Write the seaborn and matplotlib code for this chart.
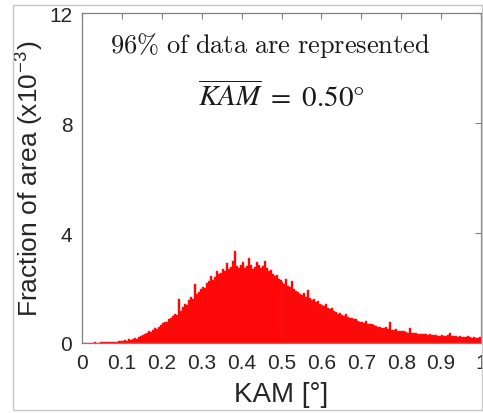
"""
KAM histogram: fraction of area vs kernel average misorientation.
"""

import numpy as np
import pandas as pd
import matplotlib
matplotlib.use('Agg')
import matplotlib.pyplot as plt
from matplotlib.patches import Rectangle
import seaborn as sns

# ── Data (bins of 0.005°) ──────────────────────────────────────────────────────
KAM_MIN, KAM_MAX = 0.0, 1.0

# fraction of area per bin, in units of 1e-3
frac_area = [
    0.00, 0.00, 0.01, 0.00, 0.01, 0.01, 0.02, 0.01, 0.01, 0.02,   # 0.00-0.05
    0.02, 0.03, 0.04, 0.02, 0.03, 0.05, 0.04, 0.05, 0.07, 0.06,   # 0.05-0.10
    0.08, 0.10, 0.09, 0.13, 0.12, 0.16, 0.18, 0.15, 0.22, 0.24,   # 0.10-0.15
    0.30, 0.34, 0.36, 0.42, 0.40, 0.48, 0.55, 0.52, 0.60, 0.66,   # 0.15-0.20
    0.72, 0.78, 0.76, 0.86, 0.92, 0.98, 1.06, 1.02, 1.60, 1.18,   # 0.20-0.25
    1.30, 1.42, 1.38, 1.55, 1.66, 1.60, 2.15, 1.78, 1.84, 1.96,   # 0.25-0.30
    2.05, 2.00, 2.18, 2.25, 2.45, 2.28, 2.40, 2.62, 2.50, 2.55,   # 0.30-0.35
    2.70, 2.62, 2.92, 2.68, 2.75, 2.98, 3.35, 2.80, 2.72, 2.84,   # 0.35-0.40
    2.95, 2.74, 2.80, 3.08, 2.82, 2.70, 2.78, 2.96, 2.84, 2.74,   # 0.40-0.45
    2.80, 2.98, 2.72, 2.62, 2.66, 2.52, 2.44, 2.48, 2.34, 2.28,   # 0.45-0.50
    2.22, 2.15, 2.32, 2.06, 2.02, 2.26, 1.96, 1.90, 1.86, 1.78,   # 0.50-0.55
    1.74, 1.82, 1.66, 1.92, 1.64, 1.58, 1.60, 1.48, 1.52, 1.40,   # 0.55-0.60
    1.38, 1.34, 1.40, 1.26, 1.22, 1.28, 1.16, 1.12, 1.06, 1.10,   # 0.60-0.65
    1.02, 0.98, 1.04, 0.94, 0.90, 0.92, 0.86, 0.88, 0.80, 0.78,   # 0.65-0.70
    0.76, 0.74, 0.80, 0.70, 0.68, 0.70, 0.64, 0.62, 0.60, 0.57,   # 0.70-0.75
    0.54, 0.55, 0.58, 0.50, 0.76, 0.48, 0.47, 0.50, 0.44, 0.45,   # 0.75-0.80
    0.42, 0.44, 0.40, 0.38, 0.56, 0.37, 0.36, 0.38, 0.34, 0.33,   # 0.80-0.85
    0.34, 0.31, 0.33, 0.29, 0.34, 0.30, 0.28, 0.29, 0.27, 0.26,   # 0.85-0.90
    0.28, 0.25, 0.26, 0.30, 0.36, 0.25, 0.24, 0.25, 0.23, 0.24,   # 0.90-0.95
    0.22, 0.23, 0.21, 0.24, 0.21, 0.20, 0.22, 0.19, 0.20, 0.23,   # 0.95-1.00
]

x_ticks = [0, 0.1, 0.2, 0.3, 0.4, 0.5, 0.6, 0.7, 0.8, 0.9, 1]
x_tick_labels = ['0', '0.1', '0.2', '0.3', '0.4', '0.5', '0.6', '0.7', '0.8', '0.9', '1']
y_ticks = [0, 4, 8, 12]

# ── Plot ──────────────────────────────────────────────────────────────────────
sns.set_style('white')
plt.rcParams['font.family'] = ['Liberation Sans', 'DejaVu Sans']
plt.rcParams['mathtext.fontset'] = 'cm'

edges = np.linspace(KAM_MIN, KAM_MAX, len(frac_area) + 1).tolist()
df = pd.DataFrame({
    'kam': [(a + b) / 2 for a, b in zip(edges[:-1], edges[1:])],
    'frac': frac_area,
})

fig = plt.figure(figsize=(4.83, 4.14), dpi=100)
ax = fig.add_axes([82 / 483, 70 / 414, 399 / 483, 330 / 414])

sns.histplot(
    data=df, x='kam', weights='frac', bins=edges,
    color='#ff0000', alpha=1.0, edgecolor='#ff2020', linewidth=0.3, ax=ax,
)

ax.set_xlim(0, 1)
ax.set_ylim(0, 12)
ax.set_xticks(x_ticks)
ax.set_xticklabels(x_tick_labels)
ax.set_yticks(y_ticks)

grey = '#262626'
for side in ['left', 'right', 'top', 'bottom']:
    ax.spines[side].set_visible(True)
    ax.spines[side].set_color('#808080')
    ax.spines[side].set_linewidth(0.9)
ax.tick_params(axis='both', direction='in', length=4, width=0.8, color='#808080',
               top=True, right=True, labelsize=15, labelcolor=grey, pad=7)

ax.set_xlabel('KAM [°]', fontsize=20, color=grey, labelpad=7)
ax.set_ylabel('Fraction of area (x10$^{\\mathregular{-3}}$)', fontsize=19, color=grey, labelpad=3)

ax.text(0.07, 0.906, r'$\mathrm{96\%\ of\ data\ are\ represented}$',
        transform=ax.transAxes, fontsize=19, color='#1a1a1a', va='center', ha='left')
ax.text(0.5, 0.748, r'$\overline{KAM}\ =\ 0.50\degree$', math_fontfamily='stix',
        transform=ax.transAxes, fontsize=21, color='#1a1a1a', va='center', ha='center')

# light grey frame around the picture
fig.patches.append(Rectangle((13 / 483, 3 / 414), 469 / 483, 405 / 414,
                             transform=fig.transFigure, fill=False,
                             edgecolor='#c8c8c8', linewidth=1.0))

fig.savefig('out.png', dpi=100)
